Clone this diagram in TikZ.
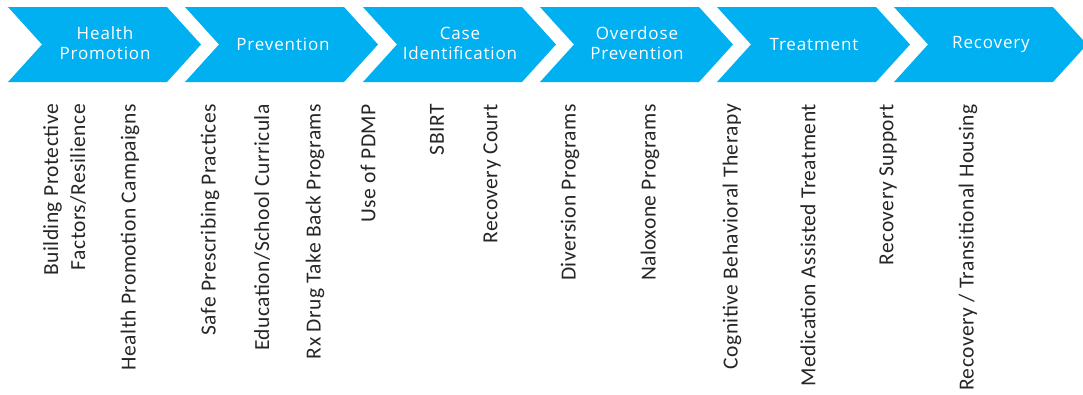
\documentclass[tikz,border=0pt]{standalone}
\usepackage{fontspec}
\setmainfont{Carlito}[LetterSpace=2.2]
\newfontfamily\chevfont{Open Sans}[LetterSpace=5]
\definecolor{chev}{HTML}{00B0F0}
\definecolor{itemgray}{HTML}{262626}
\begin{document}
\begin{tikzpicture}[x=1pt,y=-1pt,
  chevfill/.style={fill=chev},
  chevtext/.style={font=\chevfont\fontsize{17}{20}\selectfont, text=white, align=center, inner sep=0pt},
  item/.style={font=\fontsize{21.5}{27}\selectfont, text=itemgray, rotate=90, anchor=east, align=right, inner sep=0pt}]
\useasboundingbox (0,0) rectangle (1083,394);
\clip (0,0) rectangle (1083,394);
% chevrons
\foreach \x in {8,185,363,540,717,894}{
  \fill[chevfill] (\x,7) -- ++(159,0) -- ++(34,37.5) -- ++(-34,37.5) -- ++(-159,0) -- ++(34,-37.5) -- cycle;
}
\node[chevtext] (t1) at (105,43.5) {Health\\Promotion};
\node[chevtext] (t2) at (283,44.5) {Prevention};
\node[chevtext] (t3) at (460,43.5) {Case\\Identification};
\node[chevtext] (t4) at (637,43.5) {Overdose\\Prevention};
\node[chevtext] (t5) at (814,44.5) {Treatment};
\node[chevtext] (t6) at (991,44.5) {Recovery};
% items
\node[item] (i1) at (64.5,104) {Building Protective\\Factors/Resilience};
\node[item] (i2) at (130,104) {Health Promotion Campaigns};
\node[item] (i3) at (210,104) {Safe Prescribing Practices};
\node[item] (i4) at (262,104) {Education/School Curricula};
\node[item] (i5) at (315,104) {Rx Drug Take Back Programs};
\node[item] (i6) at (368,104) {Use of PDMP};
\node[item] (i7) at (437,104) {SBIRT};
\node[item] (i8) at (492,104) {Recovery Court};
\node[item] (i9) at (570,104) {Diversion Programs};
\node[item] (i10) at (650,104) {Naloxone Programs};
\node[item] (i11) at (732,104) {Cognitive Behavioral Therapy};
\node[item] (i12) at (808,104) {Medication Assisted Treatment};
\node[item] (i13) at (888,104) {Recovery Support};
\node[item] (i14) at (968,104) {Recovery / Transitional Housing};
\end{tikzpicture}
\end{document}
